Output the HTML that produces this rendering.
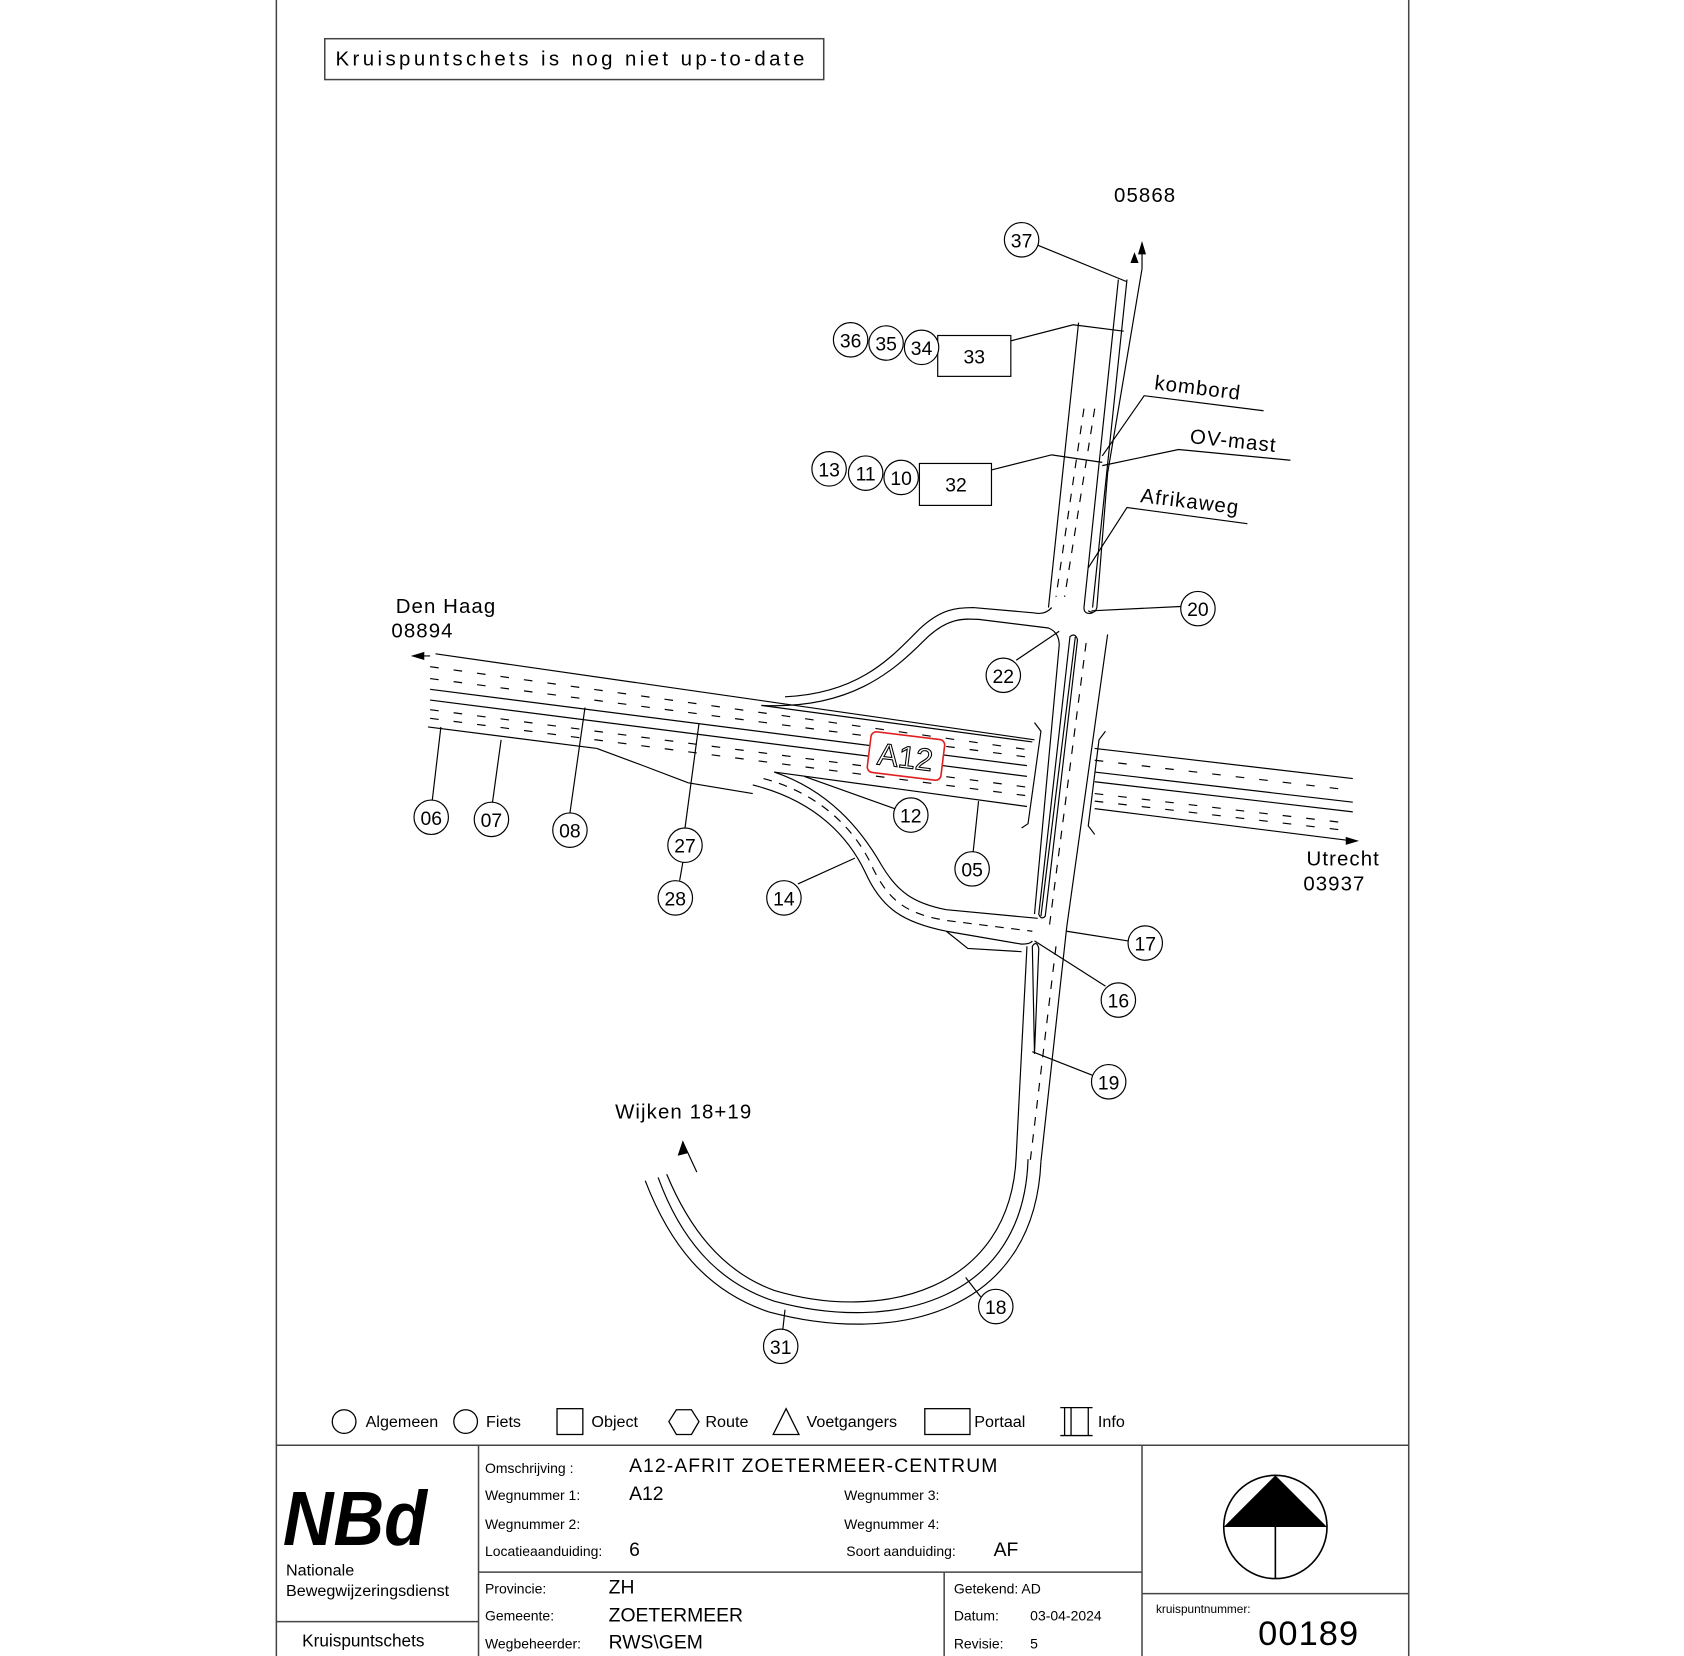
<!DOCTYPE html>
<html><head><meta charset="utf-8"><style>
html,body{margin:0;padding:0;background:#fff;}
svg{display:block;}
text{font-family:"Liberation Sans",sans-serif;}
</style></head><body>
<svg width="1684" height="1656" viewBox="0 0 1566 1540" preserveAspectRatio="none" xmlns="http://www.w3.org/2000/svg">
<g fill="none" stroke="#444" stroke-width="1.4">
<line x1="257" y1="0" x2="257" y2="1542"/>
<line x1="1310" y1="0" x2="1310" y2="1542"/>
<line x1="257" y1="1344" x2="1310" y2="1344"/>
<line x1="445" y1="1344" x2="445" y2="1542"/>
<line x1="1062" y1="1344" x2="1062" y2="1542"/>
<line x1="257" y1="1508" x2="445" y2="1508"/>
<line x1="445" y1="1462" x2="1062" y2="1462"/>
<line x1="878" y1="1462" x2="878" y2="1542"/>
<line x1="1062" y1="1482" x2="1310" y2="1482"/>
<rect x="302" y="36" width="464" height="38"/>
</g>
<text x="312" y="61" font-size="19" textLength="436" lengthAdjust="spacing">Kruispuntschets is nog niet up-to-date</text>

<!-- legend -->
<g fill="none" stroke="#000" stroke-width="1.2">
<circle cx="320" cy="1322" r="11"/>
<circle cx="433" cy="1322" r="11"/>
<rect x="518" y="1310" width="24" height="24"/>
<polygon points="629,1311 643,1311 650,1322 643,1334 629,1334 622,1322"/>
<polygon points="731,1310 743,1334 719,1334"/>
<rect x="860" y="1310" width="42" height="24"/>
<path d="M986,1309 h30 M986,1335 h30 M990,1309 v26 M996,1309 v26 M1012,1309 v26"/>
</g>
<g font-size="15">
<text x="340" y="1327">Algemeen</text><text x="452" y="1327">Fiets</text>
<text x="550" y="1327">Object</text><text x="656" y="1327">Route</text>
<text x="750" y="1327">Voetgangers</text><text x="906" y="1327">Portaal</text>
<text x="1021" y="1327">Info</text>
</g>

<!-- title block -->
<text x="263" y="1437" font-size="72" font-weight="bold" font-style="italic" textLength="134" lengthAdjust="spacingAndGlyphs">NBd</text>
<text x="266" y="1465" font-size="15">Nationale</text>
<text x="266" y="1484" font-size="15">Bewegwijzeringsdienst</text>
<text x="281" y="1531" font-size="16">Kruispuntschets</text>
<g font-size="13">
<text x="451" y="1370">Omschrijving :</text>
<text x="451" y="1395">Wegnummer 1:</text>
<text x="451" y="1422">Wegnummer 2:</text>
<text x="451" y="1447">Locatieaanduiding:</text>
<text x="785" y="1395">Wegnummer 3:</text>
<text x="785" y="1422">Wegnummer 4:</text>
<text x="787" y="1447">Soort aanduiding:</text>
<text x="451" y="1482">Provincie:</text>
<text x="451" y="1507">Gemeente:</text>
<text x="451" y="1533">Wegbeheerder:</text>
<text x="887" y="1482">Getekend: AD</text>
<text x="887" y="1507">Datum:</text><text x="958" y="1507">03-04-2024</text>
<text x="887" y="1533">Revisie:</text><text x="958" y="1533">5</text>
<text x="1075" y="1500" font-size="11">kruispuntnummer:</text>
</g>
<g font-size="18">
<text x="585" y="1369" letter-spacing="1">A12-AFRIT ZOETERMEER-CENTRUM</text>
<text x="585" y="1395">A12</text>
<text x="585" y="1447">6</text>
<text x="924" y="1447">AF</text>
<text x="566" y="1482">ZH</text>
<text x="566" y="1508">ZOETERMEER</text>
<text x="566" y="1533">RWS\GEM</text>
</g>
<text x="1170" y="1530" font-size="32" letter-spacing="1">00189</text>
<g stroke="#000" stroke-width="1.5" fill="none">
<circle cx="1186" cy="1420" r="48"/>
<line x1="1186" y1="1420" x2="1186" y2="1468"/>
</g>
<polygon points="1186,1372 1138,1420 1234,1420" fill="#000"/>

<!-- diagram -->
<g fill="none" stroke="#000" stroke-width="1.1">
<line x1="405" y1="608" x2="962" y2="688"/>
<line x1="400" y1="641" x2="955" y2="712"/>
<line x1="400" y1="651" x2="955" y2="722"/>
<line x1="398" y1="676" x2="555" y2="696"/>
<path d="M555,696 L598,712 L640,728 L700,738"/>
<line x1="708" y1="656" x2="960" y2="690"/>
<line x1="720" y1="718" x2="955" y2="750"/>
<g stroke-dasharray="8,14">
<line x1="400" y1="620" x2="955" y2="697"/>
<line x1="400" y1="631" x2="955" y2="704"/>
<line x1="400" y1="660" x2="955" y2="732"/>
<line x1="400" y1="668" x2="955" y2="740"/>
</g>
<path d="M384,610 l10,-3 v6 z" fill="#000"/>
<line x1="384" y1="610" x2="400" y2="610"/>
<line x1="1018" y1="696" x2="1258" y2="724"/>
<line x1="1018" y1="718" x2="1258" y2="746"/>
<line x1="1018" y1="727" x2="1258" y2="755"/>
<line x1="1018" y1="752" x2="1258" y2="782"/>
<g stroke-dasharray="8,14">
<line x1="1018" y1="707" x2="1258" y2="735"/>
<line x1="1018" y1="738" x2="1258" y2="766"/>
<line x1="1018" y1="745" x2="1258" y2="773"/>
</g>
<path d="M1262,782 l-10,-3 v6 z" fill="#000"/>
<path d="M962,672 l6,8 l-12,86 l-6,4"/>
<path d="M1028,680 l-6,8 l-10,80 l6,8"/>
<path d="M730,648 C800,645 830,610 855,585 C875,566 890,565 905,565 L962,570 Q972,572 978,565"/>
<path d="M708,656 C790,660 830,625 860,595 C880,575 895,575 910,576 L975,584 Q985,588 985,600 L962,850"/>
<line x1="1003" y1="300" x2="975" y2="565"/>
<line x1="1040" y1="260" x2="1008" y2="565"/>
<line x1="1048" y1="260" x2="1016" y2="565"/>
<path d="M1062,250 L1030,440 L1020,565 Q1018,572 1012,568"/>
<path d="M1008,565 Q1008,572 1016,570"/>
<g stroke-dasharray="8,8">
<line x1="1018" y1="380" x2="990" y2="555"/>
<line x1="1008" y1="380" x2="982" y2="555"/>
</g>
<path d="M1062,226 l-3,10 h6 z" fill="#000"/><line x1="1062" y1="230" x2="1062" y2="250"/>
<path d="M1055,236 l-3,8 h6 z" fill="#000"/>
<path d="M1000,592 L968,852"/>
<path d="M995,592 Q1000,588 1002,595 L972,852 Q968,856 966,850 Z"/>
<path d="M1030,590 L992,862"/>
<line x1="1010" y1="598" x2="976" y2="860" stroke-dasharray="8,8"/>
<path d="M720,718 C770,735 800,770 820,805 C835,830 850,840 880,846 L965,854"/>
<path d="M700,730 C760,745 790,780 805,812 C820,845 840,858 880,866 L950,878 Q958,878 960,875"/>
<path d="M710,724 C770,740 800,780 812,808 C828,840 845,850 880,856 L960,866" stroke-dasharray="8,7"/>
<path d="M880,866 L900,882 L950,885"/>
<path d="M955,880 L945,1075"/>
<path d="M992,862 L968,1080"/>
<path d="M960,880 Q964,874 966,882 L962,980 Z"/>
<line x1="982" y1="880" x2="958" y2="1080" stroke-dasharray="8,8"/>
<path d="M945,1075 C940,1200 820,1230 720,1200 C670,1182 640,1140 620,1092"/>
<path d="M956,1078 C952,1210 830,1240 720,1210 C665,1192 632,1150 612,1095"/>
<path d="M968,1080 C962,1220 835,1252 715,1220 C655,1200 622,1155 600,1098"/>
<path d="M635,1062 l-4,12 l8,-2 z" fill="#000"/><line x1="635" y1="1062" x2="648" y2="1090"/>
<line x1="965" y1="228" x2="1048" y2="262"/>
<polyline points="940,317 998,302 1045,308"/>
<polyline points="922,437 978,423 1025,430"/>
<polyline points="1175,382 1064,368 1025,424"/>
<polyline points="1200,428 1096,418 1025,433"/>
<polyline points="1160,487 1048,472 1012,528"/>
<line x1="1098" y1="564" x2="1015" y2="568"/>
<line x1="945" y1="614" x2="985" y2="587"/>
<line x1="402" y1="744" x2="410" y2="676"/>
<line x1="458" y1="746" x2="466" y2="688"/>
<line x1="530" y1="756" x2="544" y2="658"/>
<line x1="637" y1="770" x2="650" y2="673"/>
<line x1="635" y1="802" x2="632" y2="819"/>
<line x1="742" y1="822" x2="795" y2="798"/>
<line x1="832" y1="752" x2="748" y2="722"/>
<line x1="905" y1="792" x2="910" y2="745"/>
<line x1="1049" y1="875" x2="992" y2="866"/>
<line x1="1028" y1="917" x2="962" y2="875"/>
<line x1="1016" y1="1000" x2="960" y2="978"/>
<line x1="912" y1="1206" x2="898" y2="1188"/>
<line x1="728" y1="1236" x2="730" y2="1218"/>
<rect x="872" y="312" width="68" height="38"/>
<rect x="855" y="431" width="67" height="39"/>
</g>
<g fill="#fff" stroke="#000" stroke-width="1.1">
<circle cx="950" cy="223" r="16"/><circle cx="791" cy="316" r="16"/><circle cx="824" cy="319" r="16"/><circle cx="857" cy="323" r="16"/>
<circle cx="771" cy="436" r="16"/><circle cx="805" cy="440" r="16"/><circle cx="838" cy="444" r="16"/>
<circle cx="1114" cy="566" r="16"/><circle cx="933" cy="628" r="16"/>
<circle cx="401" cy="760" r="16"/><circle cx="457" cy="762" r="16"/><circle cx="530" cy="772" r="16"/>
<circle cx="637" cy="786" r="16"/><circle cx="628" cy="835" r="16"/><circle cx="729" cy="835" r="16"/>
<circle cx="847" cy="758" r="16"/><circle cx="904" cy="808" r="16"/><circle cx="1065" cy="877" r="16"/>
<circle cx="1040" cy="930" r="16"/><circle cx="1031" cy="1006" r="16"/><circle cx="926" cy="1215" r="16"/><circle cx="726" cy="1252" r="16"/>
</g>
<g font-size="18" text-anchor="middle">
<text x="950" y="230">37</text><text x="791" y="323">36</text><text x="824" y="326">35</text><text x="857" y="330">34</text>
<text x="771" y="443">13</text><text x="805" y="447">11</text><text x="838" y="451">10</text>
<text x="1114" y="573">20</text><text x="933" y="635">22</text>
<text x="401" y="767">06</text><text x="457" y="769">07</text><text x="530" y="779">08</text>
<text x="637" y="793">27</text><text x="628" y="842">28</text><text x="729" y="842">14</text>
<text x="847" y="765">12</text><text x="904" y="815">05</text><text x="1065" y="884">17</text>
<text x="1040" y="937">16</text><text x="1031" y="1013">19</text><text x="926" y="1222">18</text><text x="726" y="1259">31</text>
<text x="906" y="338">33</text><text x="889" y="457">32</text>
</g>
<g font-size="19" letter-spacing="1">
<text x="1036" y="188">05868</text>
<text x="368" y="570">Den Haag</text><text x="364" y="593">08894</text>
<text x="1215" y="805">Utrecht</text><text x="1212" y="828">03937</text>
<text x="572" y="1040">Wijken 18+19</text>
<text x="1073" y="362" transform="rotate(7 1073 362)">kombord</text>
<text x="1106" y="412" transform="rotate(6 1106 412)">OV-mast</text>
<text x="1060" y="467" transform="rotate(7 1060 467)">Afrikaweg</text>
</g>
<g transform="rotate(7 842 703)">
<rect x="808" y="684" width="69" height="38" rx="5" fill="#fff" stroke="#e02020" stroke-width="1.5"/>
<text x="842" y="714" font-size="29" text-anchor="middle" style="fill:#fff;stroke:#000;stroke-width:1">A12</text>
</g>
</svg>
</body></html>
